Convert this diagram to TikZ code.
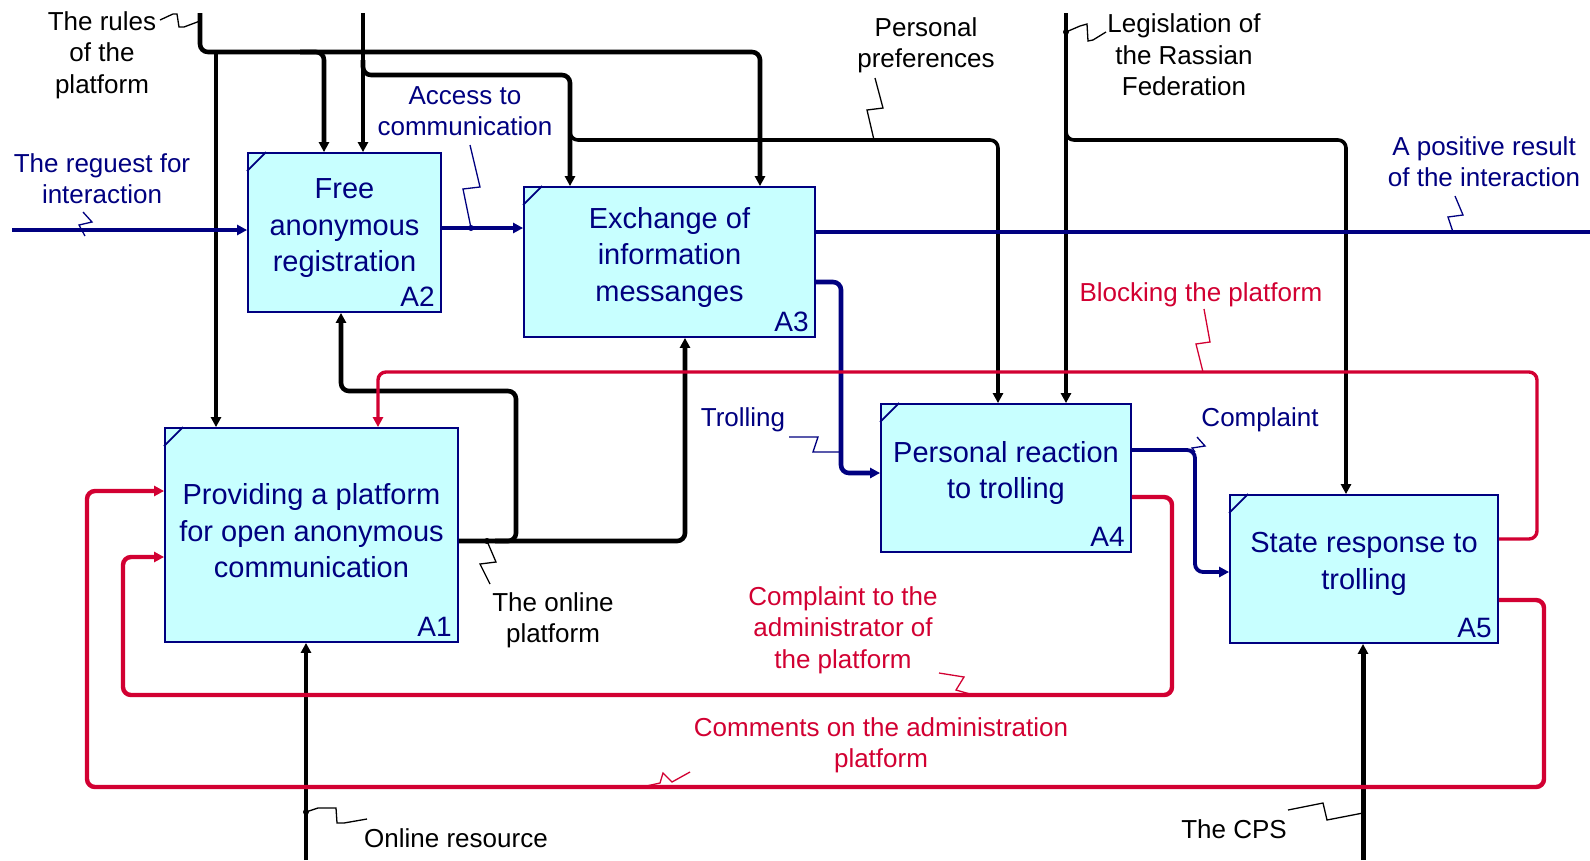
\documentclass[tikz,border=0pt]{standalone}
\usepackage{fontspec}
\setmainfont{Liberation Sans}
\usetikzlibrary{arrows.meta,calc}
\definecolor{boxfill}{RGB}{200,255,255}
\definecolor{navyc}{RGB}{0,0,128}
\definecolor{redc}{RGB}{210,0,50}
\begin{document}
\begin{tikzpicture}[x=1pt,y=-1pt,
  fnbox/.style={draw=navyc, line width=1.8pt, fill=boxfill, inner sep=0pt},
  boxtext/.style={text=navyc, align=center, font=\fontsize{29}{36.5}\selectfont, inner sep=0pt},
  boxid/.style={text=navyc, font=\fontsize{28}{30}\selectfont, inner sep=0pt, anchor=south east},
  lbl/.style={align=center, font=\fontsize{26}{31.3}\selectfont, inner sep=0pt},
  tip/.style={-{Triangle[length=10pt,width=10pt]}},
  blk/.style={line width=4.6pt, rounded corners=8pt},
  thinblk/.style={line width=3.6pt, rounded corners=8pt},
  redline/.style={draw=redc, line width=4.4pt, rounded corners=8pt},
  blueline/.style={draw=navyc, line width=4.6pt, rounded corners=8pt},
  leader/.style={line width=1.3pt},
  tick/.style={draw=navyc, line width=1.8pt}
]
\useasboundingbox (0,0) rectangle (1590,860);
\fill[white] (0,0) rectangle (1590,860);

% boxes
\node[fnbox, minimum width=193pt, minimum height=159pt] (A2) at (344.5,232.5) {};
\node[fnbox, minimum width=291pt, minimum height=150pt] (A3) at (669.5,262) {};
\node[fnbox, minimum width=293pt, minimum height=214pt] (A1) at (311.5,535) {};
\node[fnbox, minimum width=250pt, minimum height=148pt] (A4) at (1006,478) {};
\node[fnbox, minimum width=268pt, minimum height=148pt] (A5) at (1364,569) {};

\foreach \b in {A1,A2,A3,A4,A5}{
  \draw[tick] (\b.north west) ++(0,19) -- ++(19,-19);
}

\node[boxtext] (A2t) at ($(A2)+(0,-4)$) {Free\\anonymous\\registration};
\node[boxtext] (A3t) at ($(A3)+(0,-5)$) {Exchange of\\information\\messanges};
\node[boxtext] (A1t) at ($(A1)+(0,-4)$) {Providing a platform\\for open anonymous\\communication};
\node[boxtext] (A4t) at ($(A4)+(0,-5)$) {Personal reaction\\to trolling};
\node[boxtext] (A5t) at ($(A5)+(0,-5)$) {State response to\\trolling};
\node[boxid] (A2id) at ($(A2.south east)+(-7,-6)$) {A2};
\node[boxid] (A3id) at ($(A3.south east)+(-7,-6)$) {A3};
\node[boxid] (A1id) at ($(A1.south east)+(-7,-6)$) {A1};
\node[boxid] (A4id) at ($(A4.south east)+(-7,-6)$) {A4};
\node[boxid] (A5id) at ($(A5.south east)+(-7,-6)$) {A5};

% black controls
\draw[blk,tip] (200,13) -- (200,52) -- (760,52) -- (760,0 |- A3.north);
\draw[blk,tip] (216,52) -- (216,0 |- A1.north);
\draw[blk,tip] (300,52) -- (324,52) -- (324,0 |- A2.north);
\draw[blk,tip] (363,13) -- (363,0 |- A2.north);
\draw[blk,tip] (363,60) -- (363,75) -- (570,75) -- (570,0 |- A3.north);
\draw[thinblk,tip] (570,125) -- (570,140) -- (998,140) -- (998,0 |- A4.north);
\draw[thinblk,tip] (1066,13) -- (1066,0 |- A4.north);
\draw[thinblk,tip] (1066,125) -- (1066,140) -- (1346,140) -- (1346,0 |- A5.north);

% mechanisms
\draw[thinblk,tip] (306,860) -- (306,0 |- A1.south);
\draw[blk,line width=5pt,tip] (1363,860) -- (1363,0 |- A5.south);
\draw[blk,tip] (A1.east |- 0,541) -- (685,541) -- (685,0 |- A3.south);
\draw[blk,tip] (495,541) -- (516,541) -- (516,391) -- (341,391) -- (341,0 |- A2.south);

% blue
\draw[blueline,tip] (12,230) -- (A2.west |- 0,230);
\draw[blueline,tip] (A2.east |- 0,228) -- (A3.west |- 0,228);
\draw[blueline] (A3.east |- 0,232) -- (1590,232);
\draw[blueline,tip] (A3.east |- 0,282) -- (841,282) -- (841,473) -- (A4.west |- 0,473);
\draw[blueline,line width=3.8pt,tip] (A4.east |- 0,450) -- (1195,450) -- (1195,572) -- (A5.west |- 0,572);

% red
\draw[redline,line width=3.4pt,tip] (A5.east |- 0,539) -- (1537,539) -- (1537,372) -- (378,372) -- (378,0 |- A1.north);
\draw[redline,tip] (A4.east |- 0,497) -- (1172,497) -- (1172,695) -- (123,695) -- (123,557) -- (A1.west |- 0,557);
\draw[redline,tip] (A5.east |- 0,600) -- (1544,600) -- (1544,787) -- (87,787) -- (87,491) -- (A1.west |- 0,491);

% labels
\node[lbl] (Lrules) at (102,55) {The rules\\of the\\platform};
\node[lbl,text=navyc] (Lreq) at (102,179) {The reguest for\\interaction};
\node[lbl,text=navyc] (Lacc) at (465,111) {Access to\\communication};
\node[lbl] (Lpers) at (926,45) {Personal\\preferences};
\node[lbl] (Lleg) at (1184,55) {Legislation of\\the Rassian\\Federation};
\node[lbl,text=navyc] (Lpos) at (1484,162) {A positive result\\of the interaction};
\node[lbl,text=redc] (Lblock) at (1201,295) {Blocking the platform};
\node[lbl,text=navyc] (Ltroll) at (743,420) {Trolling};
\node[lbl,text=navyc] (Lcompl) at (1260,420) {Complaint};
\node[lbl] (Lonline) at (553,620) {The online\\platform};
\node[lbl,text=redc] (Lcadm) at (843,630) {Complaint to the\\administrator of\\the platform};
\node[lbl,text=redc] (Lcomm) at (881,745) {Comments on the administration\\platform};
\node[lbl] (Lres) at (456,838) {Online resource};
\node[lbl] (Lcps) at (1234,829) {The CPS};

% leaders
\draw[leader] (160,20) -- (173,14) -- (177,14) -- (179,27) -- (184,27) -- (200,21);
\draw[leader] (1066,32) -- (1080,26) -- (1087,24) -- (1088,41) -- (1093,40) -- (1106,32);
\draw[leader] (875,78) -- (883,108) -- (867,110) -- (874,140);
\draw[leader,navyc] (470,145) -- (480,187) -- (463,189) -- (471,228);
\draw[leader,navyc] (83,212) -- (92,222) -- (79,225) -- (85,236);
\draw[leader,navyc] (1455,196) -- (1463,215) -- (1448,217) -- (1453,232);
\draw[leader,redc] (1204,309) -- (1210,342) -- (1196,344) -- (1203,372);
\draw[leader] (487,541) -- (496,562) -- (480,564) -- (490,584);
\draw[leader] (306,812) -- (318,808) -- (336,808) -- (337,823) -- (344,823) -- (367,819);
\draw[leader] (1288,810) -- (1323,803) -- (1327,820) -- (1363,813);
\draw[leader,navyc] (789,437) -- (818,437) -- (813,452) -- (841,452);
\draw[leader,navyc] (1197,437) -- (1205,446) -- (1192,448) -- (1195,452);
\draw[leader,redc] (939,673) -- (964,677) -- (956,690) -- (977,696);
\draw[leader,redc] (690,772) -- (672,782) -- (663,773) -- (660,783) -- (642,787);

% junction dots
\fill (1066,32) circle[radius=3pt];
\fill (306,812) circle[radius=3pt];
\fill (487,541) circle[radius=3pt];
\fill[navyc] (471,228) circle[radius=3pt];
\end{tikzpicture}
\end{document}
